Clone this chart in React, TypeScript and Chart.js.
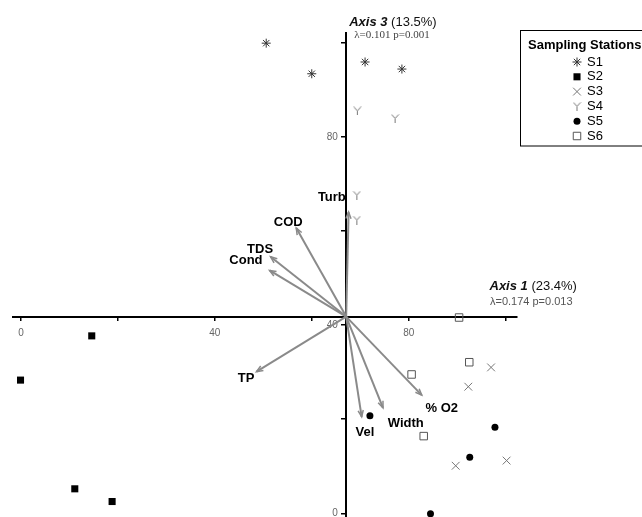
import React, { useEffect, useRef } from 'react';
import { Chart, registerables } from 'chart.js';
import { drawPoint } from 'chart.js/helpers';

Chart.register(...registerables);

// ---- data ----
const stationNames = ['S1', 'S2', 'S3', 'S4', 'S5', 'S6'];
const s1X = [50.6, 60.0, 71.0, 78.6];
const s1Y = [99.9, 93.4, 95.9, 94.4];
const s2X = [14.6, -0.1, 11.1, 18.8];
const s2Y = [37.7, 28.3, 5.2, 2.5];
const s3X = [97.0, 92.3, 100.2, 89.7];
const s3Y = [31.0, 26.9, 11.2, 10.1];
const s4X = [69.4, 77.2, 69.3, 69.3];
const s4Y = [85.5, 83.9, 67.6, 62.3];
const s5X = [72.0, 97.8, 92.6, 84.5];
const s5Y = [20.7, 18.3, 11.9, -0.1];
const s6X = [90.4, 92.5, 80.6, 83.1];
const s6Y = [41.6, 32.1, 29.5, 16.4];

const variableNames = ['Turb', 'COD', 'TDS', 'Cond', 'TP', 'Vel', 'Width', '% O2'];
const variableTipX = [67.6, 56.8, 51.5, 51.3, 48.6, 70.3, 74.7, 82.7];
const variableTipY = [64.0, 60.6, 54.5, 51.6, 30.1, 20.5, 22.4, 25.1];
const originX = 67.1;
const originY = 41.8;

const xRange = [-1.65, 102.35];
const yRange = [-0.79, 102.06];
const tickStep = 20;
const labelledTicks = [0, 40, 80];

const axis1Title = ['Axis 1', ' (23.4%)'];
const axis1Stats = 'λ=0.174 p=0.013';
const axis3Title = ['Axis 3', ' (13.5%)'];
const axis3Stats = 'λ=0.101 p=0.001';
const legendTitle = 'Sampling Stations';

// ---- styling (pixel offsets for vector labels, relative to arrow tips) ----
const labelOffsets: [number, number, CanvasTextAlign][] = [
  [-2.8, -15, 'right'],
  [-8, -5.3, 'center'],
  [-10.5, -7.7, 'center'],
  [-23.7, -9.7, 'center'],
  [-10.5, 6.8, 'center'],
  [3.3, 15.8, 'center'],
  [22.8, 15.5, 'center'],
  [20, 13.3, 'center'],
];

const SANS = '"Liberation Sans", Arial, Helvetica, sans-serif';
const SERIF = '"Liberation Serif", "Times New Roman", serif';

function makeYSymbol(): HTMLCanvasElement {
  const c = document.createElement('canvas');
  c.width = 9;
  c.height = 9;
  const ctx = c.getContext('2d')!;
  ctx.strokeStyle = '#777';
  ctx.lineWidth = 1;
  ctx.beginPath();
  ctx.moveTo(1, 0.5);
  ctx.lineTo(4.5, 4.5);
  ctx.lineTo(8, 0.5);
  ctx.moveTo(4.5, 4.5);
  ctx.lineTo(4.5, 9);
  ctx.stroke();
  return c;
}

function zip(xs: number[], ys: number[]) {
  return xs.map((x, i) => ({ x, y: ys[i] }));
}

export default function App() {
  const ref = useRef<HTMLCanvasElement>(null);

  useEffect(() => {
    const canvas = ref.current!;
    const ySym = makeYSymbol();

    const stationStyles: any[] = [
      { pointStyle: 'star', pointRadius: 4.5, borderColor: '#333', backgroundColor: '#333', borderWidth: 1 },
      { pointStyle: 'rect', pointRadius: 5, borderColor: '#000', backgroundColor: '#000', borderWidth: 0 },
      { pointStyle: 'crossRot', pointRadius: 5.5, borderColor: '#777', backgroundColor: '#777', borderWidth: 1 },
      { pointStyle: ySym, pointRadius: 4, borderColor: '#777', backgroundColor: '#777', borderWidth: 1 },
      { pointStyle: 'circle', pointRadius: 3.5, borderColor: '#000', backgroundColor: '#000', borderWidth: 0 },
      { pointStyle: 'rect', pointRadius: 5.3, borderColor: '#555', backgroundColor: 'rgba(255,255,255,0)', borderWidth: 1 },
    ];
    const stationData = [zip(s1X, s1Y), zip(s2X, s2Y), zip(s3X, s3Y), zip(s4X, s4Y), zip(s5X, s5Y), zip(s6X, s6Y)];

    const arrowSets = variableNames.map((name, i) => ({
      label: name,
      data: [{ x: originX, y: originY }, { x: variableTipX[i], y: variableTipY[i] }],
      showLine: true,
      borderColor: '#8a8a8a',
      borderWidth: 2,
      pointRadius: 0,
      clip: false as any,
      order: 2,
    }));

    const stationSets = stationNames.map((name, i) => ({
      label: name,
      data: stationData[i],
      showLine: false,
      clip: false as any,
      order: 1,
      ...stationStyles[i],
    }));

    const overlay = {
      id: 'overlay',
      afterDatasetsDraw(chart: any) {
        const ctx: CanvasRenderingContext2D = chart.ctx;
        const xs = chart.scales.x;
        const ys = chart.scales.y;
        const ox = xs.getPixelForValue(originX);
        const oy = ys.getPixelForValue(originY);
        ctx.save();
        // arrowheads + labels
        variableNames.forEach((name, i) => {
          const tx = xs.getPixelForValue(variableTipX[i]);
          const ty = ys.getPixelForValue(variableTipY[i]);
          const ang = Math.atan2(ty - oy, tx - ox);
          const len = 7;
          const spread = 0.38;
          ctx.strokeStyle = '#8a8a8a';
          ctx.lineWidth = 1.5;
          ctx.beginPath();
          ctx.moveTo(tx - len * Math.cos(ang - spread), ty - len * Math.sin(ang - spread));
          ctx.lineTo(tx, ty);
          ctx.lineTo(tx - len * Math.cos(ang + spread), ty - len * Math.sin(ang + spread));
          ctx.stroke();
          const [dx, dy, align] = labelOffsets[i];
          ctx.fillStyle = '#000';
          ctx.font = `bold 13px ${SANS}`;
          ctx.textAlign = align;
          ctx.textBaseline = 'middle';
          ctx.fillText(name, tx + dx, ty + dy);
        });

        // axis titles
        const drawTitle = (parts: string[], x: number, y: number) => {
          ctx.textAlign = 'left';
          ctx.textBaseline = 'middle';
          ctx.fillStyle = '#111';
          ctx.font = `italic bold 13px ${SANS}`;
          ctx.fillText(parts[0], x, y);
          const w = ctx.measureText(parts[0]).width;
          ctx.font = `13px ${SANS}`;
          ctx.fillText(parts[1], x + w, y);
        };
        const top = chart.chartArea.top;
        drawTitle(axis3Title, ox + 3, top - 11);
        ctx.fillStyle = '#444';
        ctx.font = `11px ${SERIF}`;
        ctx.fillText(axis3Stats, ox + 8, top + 2.5);

        drawTitle(axis1Title, 489.5, oy - 30);
        ctx.fillStyle = '#555';
        ctx.font = `11px ${SANS}`;
        ctx.fillText(axis1Stats, 490, oy - 14.5);

        // legend
        const lx = 520.5;
        const ly = 30.5;
        ctx.strokeStyle = '#000';
        ctx.lineWidth = 1;
        ctx.strokeRect(lx, ly, 140, 115.5);
        ctx.fillStyle = '#000';
        ctx.font = `bold 13px ${SANS}`;
        ctx.textAlign = 'left';
        ctx.fillText(legendTitle, 528, 45);
        stationNames.forEach((name, i) => {
          const y = 62 + i * 14.8;
          const st = stationStyles[i];
          ctx.save();
          ctx.fillStyle = st.backgroundColor;
          ctx.strokeStyle = st.borderColor;
          ctx.lineWidth = st.borderWidth;
          drawPoint(ctx, { pointStyle: st.pointStyle, radius: st.pointRadius, rotation: 0, borderWidth: st.borderWidth }, 577, y);
          ctx.restore();
          ctx.fillStyle = '#000';
          ctx.font = `13px ${SANS}`;
          ctx.textAlign = 'left';
          ctx.textBaseline = 'middle';
          ctx.fillText(name, 587, y);
        });
        ctx.restore();
      },
    };

    const xTickCb = (v: any) => (labelledTicks.includes(Number(v)) ? String(v) : '');
    const yTickCb = (v: any) => (labelledTicks.includes(Number(v)) ? String(v) + '   ' : '');

    const chart = new Chart(canvas, {
      type: 'scatter',
      data: { datasets: [...arrowSets, ...stationSets] as any },
      options: {
        animation: false,
        responsive: false,
        devicePixelRatio: 1,
        events: [],
        layout: { padding: { left: 13, right: 125, top: 33, bottom: 0 } },
        plugins: { legend: { display: false }, tooltip: { enabled: false } },
        scales: {
          x: {
            type: 'linear',
            min: xRange[0],
            max: xRange[1],
            position: { y: originY } as any,
            border: { color: '#000', width: 2 },
            grid: { drawOnChartArea: false, drawTicks: true, tickLength: 3, color: '#000', lineWidth: 1.5 },
            ticks: {
              stepSize: tickStep,
              includeBounds: false,
              autoSkip: false,
              maxRotation: 0,
              color: '#666',
              padding: 8,
              font: { family: SANS, size: 10 },
              callback: xTickCb,
            },
          },
          y: {
            type: 'linear',
            min: yRange[0],
            max: yRange[1],
            position: { x: originX } as any,
            border: { color: '#000', width: 2 },
            grid: { drawOnChartArea: false, drawTicks: true, tickLength: 4, color: '#000', lineWidth: 1.5 },
            ticks: {
              stepSize: tickStep,
              includeBounds: false,
              autoSkip: false,
              color: '#666',
              padding: 4,
              font: { family: SANS, size: 10 },
              callback: yTickCb,
            },
          },
        },
      },
      plugins: [overlay],
    });
    return () => chart.destroy();
  }, []);

  return (
    <div style={{ position: 'fixed', left: 0, top: 0, width: 642, height: 517, background: '#fff', overflow: 'hidden' }}>
      <canvas ref={ref} width={642} height={527} style={{ display: 'block' }} />
    </div>
  );
}
